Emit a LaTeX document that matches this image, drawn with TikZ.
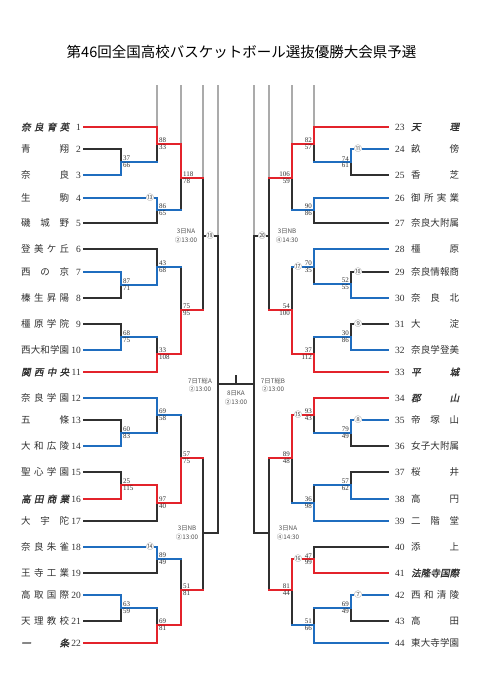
\documentclass[tikz,border=0pt]{standalone}
\usepackage{fontspec}
\setmainfont{Liberation Serif}
\newfontfamily\jp{Noto Sans CJK JP}
\newfontfamily\jpbi[FakeSlant=0.2,FakeBold=1.5]{Noto Sans CJK JP}
\usetikzlibrary{calc}
\definecolor{winred}{HTML}{E3232B}
\definecolor{wonblue}{HTML}{1F6DBF}
\definecolor{ink}{HTML}{303030}
\definecolor{shade}{HTML}{ABABAB}
\definecolor{lbl}{HTML}{505050}
% names are spread over a fixed width, one glyph at a time
\newcommand\spread[1]{\makebox[48pt][s]{\expandafter\spreadchars#1\relax}}
\def\spreadchars#1#2{#1\ifx\relax#2\else\hfil\expandafter\spreadchars\expandafter#2\fi}
\tikzset{
  rd/.style={draw=winred, line width=2pt, line cap=rect},
  bu/.style={draw=wonblue, line width=2pt, line cap=rect},
  bk/.style={draw=ink, line width=1.1pt, line cap=rect},
  gy/.style={draw=shade, line width=1.1pt},
  numL/.style={anchor=east, inner sep=0pt, text=ink, font=\fontsize{9.5}{10}\selectfont},
  numR/.style={numL, anchor=west},
  nameL/.style={anchor=west, inner sep=0pt, text=ink, font=\jp\fontsize{9.5}{10}\selectfont},
  sc/.style={inner sep=0.8pt, text=ink, font=\fontsize{7}{7}\selectfont},
  gno/.style={fill=white, inner sep=0.3pt, text=lbl, font=\jp\fontsize{7.5}{7.5}\selectfont},
  slot/.style={align=center, inner sep=0pt, text=lbl, font=\jp\fontsize{6.3}{8.6}\selectfont},
}
\begin{document}
\begin{tikzpicture}[x=1pt, y=-1pt]
  \useasboundingbox (0,0) rectangle (482,680);
  \node[font=\jp\fontsize{14.5}{16}\selectfont, text=black] (title) at (241.5,52)
    {第46回全国高校バスケットボール選抜優勝大会県予選};

  % teams, left half
  \foreach \n/\y/\nm/\fn in {1/127/奈良育英/\jpbi, 2/149/青翔/\jp, 3/175/奈良/\jp, 4/198/生駒/\jp,
      5/223/磯城野/\jp, 6/249/登美ケ丘/\jp, 7/272/西の京/\jp, 8/298/榛生昇陽/\jp, 9/324/橿原学院/\jp,
      10/350/西大和学園/\jp, 11/372/関西中央/\jpbi, 12/398/奈良学園/\jp, 13/420/五條/\jp,
      14/446/大和広陵/\jp, 15/472/聖心学園/\jp, 16/499/高田商業/\jpbi, 17/521/大宇陀/\jp,
      18/547/奈良朱雀/\jp, 19/573/王寺工業/\jp, 20/595/高取国際/\jp, 21/621/天理教校/\jp, 22/643/一条/\jpbi}
  {
    \node[numL] (k\n) at (81,\y) {\n};
    \node[nameL] (m\n) at (21,\y) {\fn\spread{\nm}};
    \coordinate (p\n) at (84,\y);
  }
  % teams, right half
  \foreach \n/\y/\nm/\fn in {23/127/天理/\jpbi, 24/149/畝傍/\jp, 25/175/香芝/\jp, 26/198/御所実業/\jp,
      27/223/奈良大附属/\jp, 28/249/橿原/\jp, 29/272/奈良情報商/\jp, 30/298/奈良北/\jp, 31/324/大淀/\jp,
      32/350/奈良学登美/\jp, 33/372/平城/\jpbi, 34/398/郡山/\jpbi, 35/420/帝塚山/\jp, 36/446/女子大附属/\jp,
      37/472/桜井/\jp, 38/499/高円/\jp, 39/521/二階堂/\jp, 40/547/添上/\jp, 41/573/法隆寺国際/\jpbi,
      42/595/西和清陵/\jp, 43/621/高田/\jp, 44/643/東大寺学園/\jp}
  {
    \node[numR] (k\n) at (395,\y) {\n};
    \node[nameL] (m\n) at (411,\y) {\fn\spread{\nm}};
    \coordinate (p\n) at (388,\y);
  }

  % game points
  \foreach \g/\x/\y in {a1/121/162, a2/157/144, a3/157/210, a4/181/178, a5/121/285, a6/157/267,
      a7/121/337, a8/157/354, a9/181/310, a10/203/236, a11/121/433, a12/157/415, a13/121/485,
      a14/157/503, a15/181/458, a16/157/559, a17/121/608, a18/157/625, a19/181/590, a20/203/533, a21/218/384,
      b1/351/162, b2/314/144, b3/314/210, b4/292/178, b5/351/284, b6/314/267,
      b7/351/337, b8/314/354, b9/292/310, b10/269/236, b11/351/433, b12/314/415, b13/351/485,
      b14/314/503, b15/292/458, b16/314/559, b17/351/608, b18/314/625, b19/292/590, b20/269/533, b21/254/384}
    \coordinate (\g) at (\x,\y);
  \coordinate (top) at (0,85);

  \foreach \g/\i in {a2/p1, a4/a2, a10/a4, a21/a10, b2/p23, b4/b2, b10/b4, b21/b10}
    \draw[gy] (\g |- top) -- (\i -| \g);

  % legs: loser first, then winner
  \foreach \src/\dst/\hs/\vs in {p2/a1/bk/bk, p3/a1/bu/bu, p5/a3/bk/bk, p4/a3/bu/bu, a1/a2/bu/bk, p1/a2/rd/rd,
      a3/a4/bu/bk, a2/a4/rd/rd, p8/a5/bk/bk, p7/a5/bu/bu, p6/a6/bk/bk, a5/a6/bu/bu, p9/a7/bk/bk, p10/a7/bu/bu,
      a7/a8/bu/bk, p11/a8/rd/rd, a6/a9/bu/bk, a8/a9/rd/rd, a4/a10/rd/bk, a9/a10/rd/bk,
      p13/a11/bk/bk, p14/a11/bu/bu, a11/a12/bu/bk, p12/a12/bu/bu, p15/a13/bk/bk, p16/a13/rd/rd,
      p17/a14/bk/bk, a13/a14/rd/rd, a12/a15/bu/bk, a14/a15/rd/rd, p19/a16/bk/bk, p18/a16/bu/bu,
      p21/a17/bk/bk, p20/a17/bu/bu, a17/a18/bu/bk, p22/a18/rd/rd, a16/a19/bu/bk, a18/a19/rd/rd,
      a15/a20/rd/bk, a19/a20/rd/bk, a10/a21/bk/bk, a20/a21/bk/bk,
      p25/b1/bk/bk, p24/b1/bu/bu, p27/b3/bk/bk, p26/b3/bu/bu, b1/b2/bu/bk, p23/b2/rd/rd,
      b3/b4/bu/bk, b2/b4/rd/rd, p29/b5/bk/bk, p30/b5/bu/bu, b5/b6/bu/bk, p28/b6/bu/bu,
      p31/b7/bk/bk, p32/b7/bu/bu, b7/b8/bu/bk, p33/b8/rd/rd, b6/b9/bu/bk, b8/b9/rd/rd,
      b4/b10/rd/bk, b9/b10/rd/bk, p36/b11/bk/bk, p35/b11/bu/bu, b11/b12/bu/bk, p34/b12/rd/rd,
      p37/b13/bk/bk, p38/b13/bu/bu, b13/b14/bu/bk, p39/b14/bu/bu, b14/b15/bu/bk, b12/b15/rd/rd,
      p40/b16/bk/bk, p41/b16/rd/rd, p43/b17/bk/bk, p42/b17/bu/bu, b17/b18/bu/bk, p44/b18/bu/bu,
      b18/b19/bu/bk, b16/b19/rd/rd, b15/b20/rd/bk, b19/b20/rd/bk, b10/b21/bk/bk, b20/b21/bk/bk}
  {
    \draw[\vs] (\src -| \dst) -- (\dst);
    \draw[\hs] (\src) -- (\src -| \dst);
  }
  % final
  \draw[bk] (a21) -- (b21);
  \coordinate (fin) at ($(a21)!0.5!(b21)$);
  \draw[bk] (fin) -- ++(0,-8);

  % scores
  \foreach \g/\u/\d in {a1/37/66, a2/88/33, a3/86/65, a4/118/78, a5/87/71, a6/43/68, a7/68/75, a8/33/108,
      a9/75/95, a11/60/83, a12/69/58, a13/25/115, a14/97/40, a15/57/75, a16/89/49, a17/63/59, a18/69/81, a19/51/81}
  {
    \node[sc, anchor=south west, xshift=1.2pt] (\g-u) at (\g) {\u};
    \node[sc, anchor=north west, xshift=1.2pt] (\g-d) at (\g) {\d};
  }
  \foreach \g/\u/\d in {b1/74/61, b2/82/57, b3/90/86, b4/106/59, b5/52/55, b6/70/35, b7/30/86, b8/37/112,
      b9/54/100, b11/79/49, b12/93/43, b13/57/62, b14/36/98, b15/89/48, b16/47/99, b17/69/49, b18/51/66, b19/81/44}
  {
    \node[sc, anchor=south east, xshift=-1.2pt] (\g-u) at (\g) {\u};
    \node[sc, anchor=north east, xshift=-1.2pt] (\g-d) at (\g) {\d};
  }

  % game numbers on the lines
  \foreach \c/\x/\y/\t in {c4/150/198/⑬, c18/150/547/⑭, cl/210/236/⑲, cr/262/236/⑳, c24/358/149/⑪,
      c29/358/272/⑩, c31/358/324/⑨, c35/358/420/⑧, c42/358/595/⑦, c28/298/267/⑰, c34/298/415/⑮, c41/298/559/⑯}
    \node[gno] (\c) at (\x,\y) {\t};

  % dates and times
  \node[slot] (qa) at (186,236) {3日NA\\②13:00};
  \node[slot] (qb) at (187,533) {3日NB\\②13:00};
  \node[slot] (qc) at (287,236) {3日NB\\④14:30};
  \node[slot] (qd) at (288,533) {3日NA\\④14:30};
  \node[slot] (sa) at (200,385) {7日T総A\\②13:00};
  \node[slot] (sb) at (273,385) {7日T総B\\②13:00};
  \node[slot] (fa) at (236,398) {8日KA\\②13:00};
\end{tikzpicture}
\end{document}
